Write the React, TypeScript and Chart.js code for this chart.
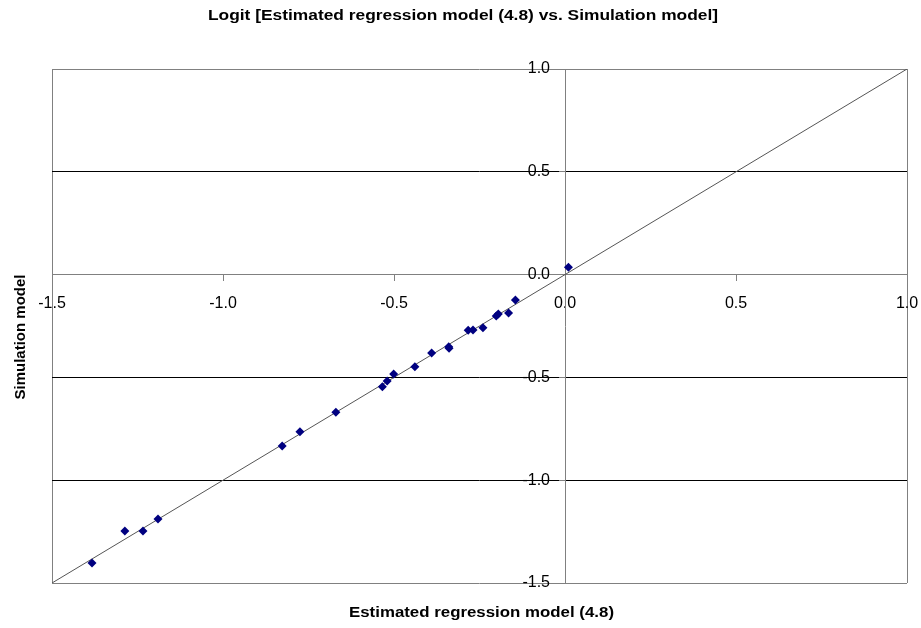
import React, { useEffect, useRef } from 'react';
import { Chart, registerables } from 'chart.js';

Chart.register(...registerables);

const TITLE = 'Logit [Estimated regression model (4.8) vs. Simulation model]';
const X_TITLE = 'Estimated regression model (4.8)';
const Y_TITLE = 'Simulation model';

const estimated = [-1.383, -1.287, -1.234, -1.19, -0.827, -0.775, -0.67, -0.534, -0.52, -0.501, -0.439, -0.39, -0.34, -0.339, -0.283, -0.269, -0.24, -0.201, -0.195, -0.165, -0.145, 0.01];
const simulation = [-1.403, -1.247, -1.247, -1.189, -0.834, -0.764, -0.67, -0.545, -0.517, -0.483, -0.448, -0.381, -0.351, -0.358, -0.271, -0.269, -0.258, -0.201, -0.192, -0.187, -0.124, 0.036];
const lineX = [-1.5, 1.0];
const lineY = [-1.5, 1.0];
const axisTicks = [-1.5, -1.0, -0.5, 0, 0.5, 1.0];

const FONT = '"Liberation Sans", Arial, sans-serif';
const Y_LABEL_GAP = 15;

function drawStretched(ctx: CanvasRenderingContext2D, text: string, cx: number, baseline: number, width: number) {
  const w = ctx.measureText(text).width;
  const s = width / w;
  ctx.save();
  ctx.translate(cx, baseline);
  ctx.scale(s, 1);
  ctx.textAlign = 'center';
  ctx.textBaseline = 'alphabetic';
  ctx.fillText(text, 0, 0);
  ctx.restore();
}

const yLabelShiftPlugin = {
  id: 'yLabelShift',
  beforeDraw(chart: any) {
    const s = chart.scales.y;
    if (!s || !s.getLabelItems) return;
    const items = s.getLabelItems(chart.chartArea);
    if ((items as any)._shifted) return;
    items.forEach((it: any) => {
      it.options.translation[0] -= Y_LABEL_GAP;
    });
    (items as any)._shifted = true;
  },
};

const titlesPlugin = {
  id: 'titlesPlugin',
  afterDraw(chart: any) {
    const ctx: CanvasRenderingContext2D = chart.ctx;
    ctx.save();
    ctx.fillStyle = '#000';
    ctx.font = `bold 14px ${FONT}`;
    drawStretched(ctx, TITLE, 463, 19.5, 510);
    ctx.font = `bold 15px ${FONT}`;
    drawStretched(ctx, X_TITLE, 481.5, 616.5, 265);
    ctx.save();
    ctx.translate(25, 337);
    ctx.rotate(-Math.PI / 2);
    ctx.font = `bold 15px ${FONT}`;
    ctx.textAlign = 'center';
    ctx.textBaseline = 'alphabetic';
    ctx.fillText(Y_TITLE, 0, 0);
    ctx.restore();
    ctx.restore();
  },
};

export default function App() {
  const ref = useRef<HTMLCanvasElement | null>(null);
  useEffect(() => {
    if (!ref.current) return;
    const points = estimated.map((x, i) => ({ x, y: simulation[i] }));
    const line = lineX.map((x, i) => ({ x, y: lineY[i] }));
    const setTicks = (s: any) => {
      s.ticks = axisTicks.map((v) => ({ value: v }));
    };
    const chart = new Chart(ref.current, {
      type: 'scatter',
      data: {
        datasets: [
          {
            data: points,
            pointStyle: 'rectRot',
            pointRadius: 4.5,
            pointBackgroundColor: '#000080',
            pointBorderColor: '#000080',
            pointBorderWidth: 0,
            showLine: false,
          } as any,
          {
            data: line,
            showLine: true,
            borderColor: '#555555',
            borderWidth: 1,
            pointRadius: 0,
            fill: false,
          } as any,
        ],
      },
      options: {
        animation: false,
        responsive: false,
        devicePixelRatio: 1,
        layout: { padding: { left: 52, top: 69, right: 14, bottom: 45 } },
        plugins: { legend: { display: false }, tooltip: { enabled: false }, title: { display: false } },
        scales: {
          x: {
            type: 'linear',
            position: { y: 0 } as any,
            min: -1.5,
            max: 1.0,
            afterBuildTicks: setTicks,
            afterFit: (s: any) => {
              s.paddingLeft = 0;
              s.paddingRight = 0;
            },
            ticks: {
              callback: (v: any) => Number(v).toFixed(1),
              font: { size: 16, family: FONT },
              color: '#000',
              padding: 13,
              maxRotation: 0,
              autoSkip: false,
            },
            grid: {
              color: (c: any) => (c.tick && (c.tick.value === -1.5 || c.tick.value === 1) ? '#808080' : 'rgba(0,0,0,0)'),
              tickColor: '#808080',
              tickLength: 6,
              lineWidth: 1,
              drawOnChartArea: true,
            },
            border: { display: true, color: '#808080', width: 1 },
          },
          y: {
            type: 'linear',
            position: { x: 0 } as any,
            min: -1.5,
            max: 1.0,
            afterBuildTicks: setTicks,
            afterFit: (s: any) => {
              s.paddingTop = 0;
              s.paddingBottom = 0;
            },
            ticks: {
              callback: (v: any) => Number(v).toFixed(1),
              font: { size: 16, family: FONT },
              color: '#000',
              padding: 8,
              autoSkip: false,
            },
            grid: {
              color: (c: any) => (c.tick && (c.tick.value === -1.5 || c.tick.value === 1 || c.tick.value === 0) ? '#808080' : '#000000'),
              tickColor: '#808080',
              tickLength: 6,
              lineWidth: 1,
            },
            border: { display: true, color: '#808080', width: 1 },
          },
        },
      },
      plugins: [yLabelShiftPlugin, titlesPlugin],
    });
    return () => chart.destroy();
  }, []);
  return (
    <div style={{ position: 'absolute', left: 0, top: 0, width: 921, height: 628, background: '#fff' }}>
      <canvas ref={ref} width={921} height={628} style={{ width: 921, height: 628, display: 'block' }} />
    </div>
  );
}
